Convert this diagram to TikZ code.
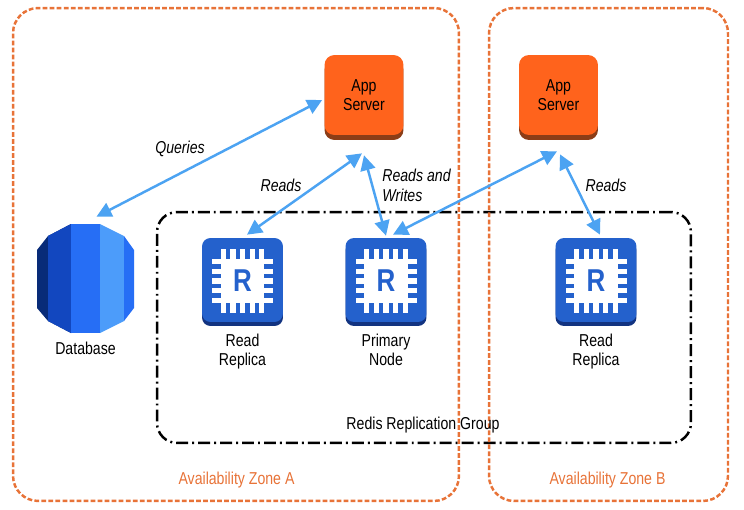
\documentclass[tikz,border=0pt]{standalone}
\usepackage{fontspec}
\setmainfont[FakeStretch=0.82]{Liberation Sans}
\usetikzlibrary{arrows.meta}
\definecolor{zoneorange}{rgb}{0.91,0.45,0.22}
\definecolor{apporange}{rgb}{1.,0.39,0.11}
\definecolor{appdark}{rgb}{0.55,0.24,0.09}
\definecolor{linkblue}{rgb}{0.30,0.64,0.95}
\definecolor{chipblue}{rgb}{0.14,0.38,0.80}
\definecolor{chipdark}{rgb}{0.07,0.20,0.50}
\definecolor{dbnavy}{rgb}{0.03,0.17,0.47}
\definecolor{dbdeep}{rgb}{0.07,0.28,0.75}
\definecolor{dbmid}{rgb}{0.15,0.43,0.96}
\definecolor{dblight}{rgb}{0.30,0.61,0.98}
\tikzset{
	zone/.style={draw=zoneorange,line width=1.4pt,rounded corners=0.5cm,dash pattern=on 2.7pt off 1.3pt,inner sep=0pt},
	groupbox/.style={draw=black,line width=1.4pt,rounded corners=0.4cm,dash pattern=on 6.8pt off 2.3pt on 1.1pt off 2.3pt,minimum width=10.68cm,minimum height=4.62cm,inner sep=0pt},
	appserver/.style={fill=apporange,rounded corners=0.2cm,minimum width=1.58cm,minimum height=1.6cm,inner sep=0pt,align=center,font=\fontsize{9.8}{11.2}\selectfont,preaction={fill=appdark,transform canvas={yshift=-0.1cm}}},
	chipbox/.style={fill=chipblue,rounded corners=0.17cm,minimum width=1.62cm,minimum height=1.68cm,inner sep=0pt,preaction={fill=chipdark,transform canvas={yshift=-0.08cm}}},
	label/.style={align=center,inner sep=0pt,font=\fontsize{9.8}{10.9}\selectfont},
	linklabel/.style={align=left,inner sep=0pt,font=\fontsize{9.8}{11.2}\selectfont\itshape},
	zonelabel/.style={inner sep=0pt,text=zoneorange,font=\fontsize{9.8}{11.2}\selectfont},
	link/.style={{Triangle[length=8.5pt,width=8.5pt]}-{Triangle[length=8.5pt,width=8.5pt]},color=linkblue,line width=1.4pt}
}
\newcommand{\chipicon}[2]{
	\node[chipbox] (#2) at (#1) {};
	\begin{scope}[shift={(#1)}]
		\fill[white] (-21.5,-21) rectangle (21.5,23);
		\foreach \k in {-19.2,-9.6,0,9.6,19.2} {
			\fill[white] (\k-2.6,-31) rectangle (\k+2.6,33);
			\fill[white] (-30.5,\k-1.6) rectangle (30.5,\k+3.6);
		}
		\node[inner sep=0pt,text=chipblue,font=\fontsize{18}{18}\selectfont\bfseries] at (0,1) {R};
	\end{scope}
}
\begin{document}
\begin{tikzpicture}[line cap=butt,line join=round,x=0.02cm,y=-0.02cm]
	\useasboundingbox[fill=white] (0,0) rectangle (744,510);
	\node[groupbox] (group) at (424,327.5) {};
	\node[zone,minimum width=8.92cm,minimum height=9.86cm] (zoneA) at (236,254.5) {};
	\node[zone,minimum width=4.78cm,minimum height=9.86cm] (zoneB) at (608.5,254.5) {};
	\fill[dbnavy] (71,224) -- (48,236) -- (37,250) -- (37,308) -- (48,321) -- (71,333) -- cycle;
	\fill[dbdeep] (71,224) -- (48,236) -- (48,321) -- (71,333) -- cycle;
	\fill[dbmid] (71,224) -- (100,224) -- (100,333) -- (71,333) -- cycle;
	\fill[dblight] (100,224) -- (124,236) -- (124,321) -- (100,333) -- cycle;
	\fill[dbmid] (124,236) -- (134,250) -- (134,308) -- (124,321) -- cycle;
	\node[inner sep=0pt,minimum width=1.94cm,minimum height=2.18cm] (db) at (85.5,278.5) {};
	\node[appserver] (appA) at (364,95) {App\\Server};
	\node[appserver] (appB) at (558.5,95) {App\\Server};
	\chipicon{242.5,280}{replicaA}
	\chipicon{386,280}{primary}
	\chipicon{596,280}{replicaB}
	\coordinate (dbtop) at ([xshift=0.22cm,yshift=0.14cm]db.north);
	\coordinate (appAleft) at ([xshift=-0.04cm,yshift=-0.1cm]appA.west);
	\coordinate (appAread) at ([xshift=-0.04cm,yshift=-0.36cm]appA.south);
	\coordinate (appAwrite) at ([yshift=-0.4cm]appA.south);
	\coordinate (appBin) at ([xshift=-0.03cm,yshift=-0.32cm]appB.south);
	\coordinate (appBread) at ([xshift=0.03cm,yshift=-0.38cm]appB.south);
	\coordinate (replicaAtop) at ([xshift=0.09cm,yshift=0.06cm]replicaA.north);
	\coordinate (primarytop) at ([yshift=0.04cm]primary.north);
	\coordinate (primaryin) at ([xshift=0.14cm,yshift=0.06cm]primary.north);
	\coordinate (replicaBtop) at ([xshift=0.08cm,yshift=0.06cm]replicaB.north);
	\draw[link] (dbtop) -- (appAleft);
	\draw[link] (replicaAtop) -- (appAread);
	\draw[link] (primarytop) -- (appAwrite);
	\draw[link] (primaryin) -- (appBin);
	\draw[link] (replicaBtop) -- (appBread);
	\node[linklabel] (queries) at (180,148.5) {Queries};
	\node[linklabel] (readsA) at (281,185.5) {Reads};
	\node[linklabel,anchor=west] (readswrites) at (382,185.5) {Reads and\\Writes};
	\node[linklabel] (readsB) at (606,185.5) {Reads};
	\node[label] (dblabel) at (85.5,348) {Database};
	\node[label] (replicaAlabel) at (242.5,352.5) {Read\strut\\Replica\strut};
	\node[label] (primarylabel) at (386,352.5) {Primary\strut\\Node\strut};
	\node[label] (replicaBlabel) at (596,352.5) {Read\strut\\Replica\strut};
	\node[label] (grouplabel) at (423,425) {Redis Replication Group};
	\node[zonelabel] (zoneAlabel) at (236.5,480) {Availability Zone A};
	\node[zonelabel] (zoneBlabel) at (607.5,480) {Availability Zone B};
\end{tikzpicture}
\end{document}
